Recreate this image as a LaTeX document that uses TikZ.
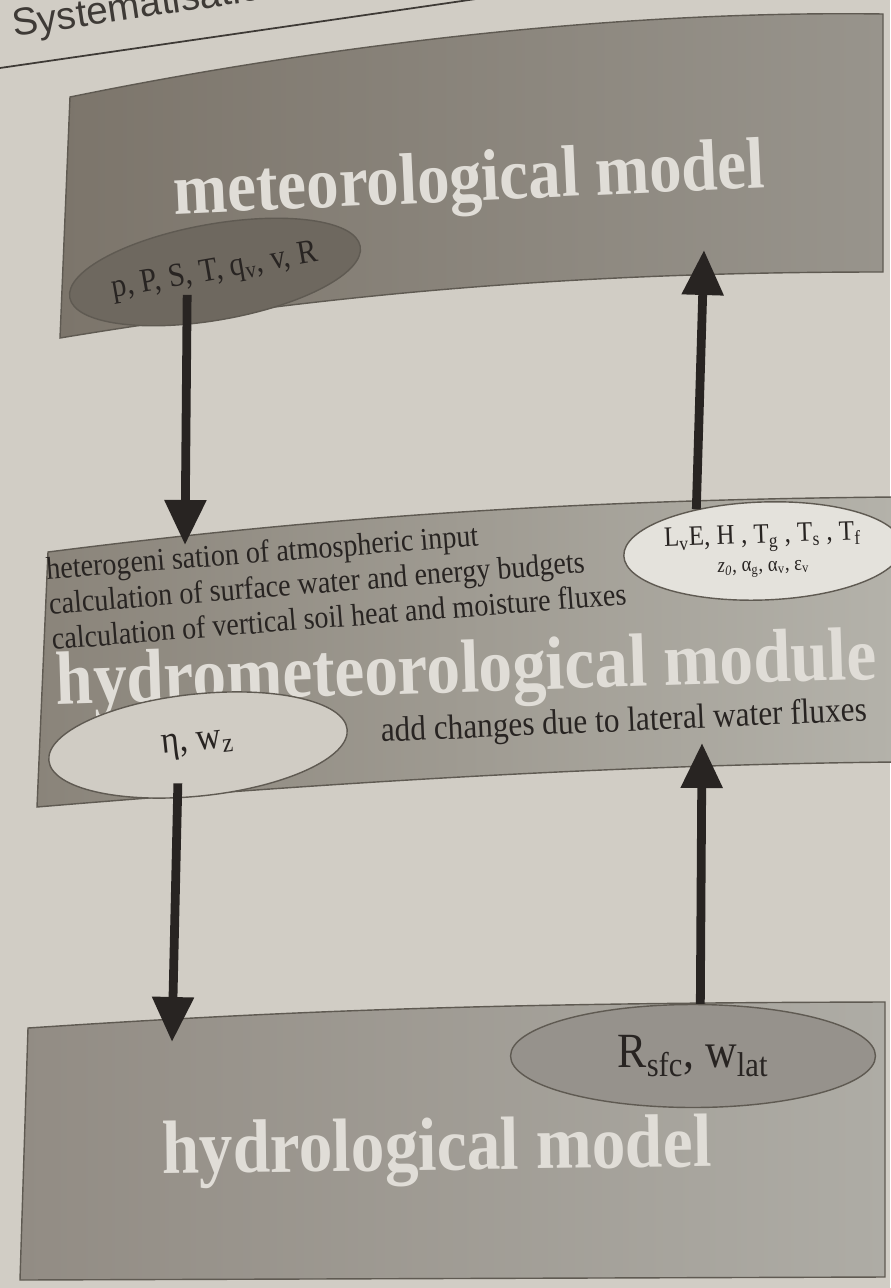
\documentclass[tikz,border=0pt]{standalone}
\usepackage{fontspec}
\setmainfont[FakeStretch=0.89]{Liberation Serif}
\newfontfamily\headfont{Liberation Sans}
\usetikzlibrary{arrows.meta,shapes.geometric,calc}
\definecolor{pagebg}{RGB}{209,205,197}
\definecolor{headink}{RGB}{62,58,54}
\definecolor{inkcol}{RGB}{40,36,34}
\definecolor{panelline}{RGB}{95,90,82}
\definecolor{titlecol}{RGB}{224,221,215}
\definecolor{metleft}{RGB}{124,117,107}
\definecolor{metright}{RGB}{152,148,140}
\definecolor{hmleft}{RGB}{138,132,122}
\definecolor{hmright}{RGB}{180,178,170}
\definecolor{hydleft}{RGB}{146,140,132}
\definecolor{hydright}{RGB}{174,172,165}
\definecolor{darkvar}{RGB}{110,104,95}
\definecolor{palevar}{RGB}{228,226,220}
\definecolor{lightvar}{RGB}{208,204,196}
\definecolor{midvar}{RGB}{150,146,140}
\tikzset{
  panel/.style={draw=panelline,line width=.8pt},
  boxtitle/.style={text=titlecol,inner sep=0pt,anchor=base,
                   font=\bfseries\fontsize{43}{43}\selectfont},
  vars/.style={ellipse,draw=panelline,line width=.8pt,text=inkcol,inner sep=0pt,
               align=center},
  proc/.style={text=inkcol,inner sep=0pt,align=left,
               font=\fontsize{18}{20}\selectfont},
  flow/.style={draw=inkcol,line width=5pt,-{Triangle[length=9mm,width=8mm]}},
}

\begin{document}
\begin{tikzpicture}[x=0.02cm,y=-0.02cm]
  \useasboundingbox (0,0) rectangle (890,1288);
  \fill[pagebg] (0,0) rectangle (890,1288);
  % running head
  \node[text=headink,font=\headfont\fontsize{22}{22}\selectfont,
        anchor=base west,inner sep=0pt,rotate=8.5] (runhead) at (14,37) {Systematisation};
  \draw[headink,line width=1pt] (0,68) -- (600,-19);
  % the three levels
  \shade[panel,left color=metleft,right color=metright]
    (70,97) .. controls (300,50) and (600,10) .. (883,14) -- (883,272)
    .. controls (600,272) and (350,290) .. (60,338) -- cycle;
  \shade[panel,left color=hmleft,right color=hmright]
    (48,552) .. controls (300,520) and (550,500) .. (895,497) -- (895,762)
    .. controls (600,765) and (300,785) .. (37,807) -- cycle;
  \shade[panel,left color=hydleft,right color=hydright]
    (28,1028) .. controls (300,1010) and (500,1003) .. (885,1002) -- (885,1277)
    -- (20,1280) -- cycle;
  \node[boxtitle,font=\bfseries\fontsize{41.5}{42}\selectfont,rotate=2.6]
    (mettitle) at (470,201) {meteorological model};
  \node[boxtitle,rotate=1.8] (hmtitle) at (467,692) {hydrometeorological module};
  \node[boxtitle,rotate=0.7] (hydtitle) at (437,1170) {hydrological model};
  \node[proc,anchor=north west,rotate=4.5] (steps) at (45,557)
    {heterogeni sation of atmospheric input\\
     calculation of surface water and energy budgets\\
     calculation of vertical soil heat and moisture fluxes};
  \node[proc,font=\fontsize{20}{22}\selectfont,anchor=base west,rotate=2.5]
    (latstep) at (381,742) {add changes due to lateral water fluxes};
  % exchanged variables
  \node[vars,fill=darkvar,minimum width=5.8cm,minimum height=1.92cm,rotate=10,
        font=\fontsize{19}{20}\selectfont] (metvars) at (215,272)
    {p, P, S, T, q\textsubscript{v}, v, R};
  \node[vars,fill=palevar,minimum width=5cm,minimum height=1.96cm,rotate=2,
        font=\fontsize{16}{17}\selectfont] (fluxvars) at (763,551)
    {L\textsubscript{v}E, H , T\textsubscript{g} , T\textsubscript{s} , T\textsubscript{f}\\[-1pt]
     {\fontsize{12}{13}\selectfont\itshape z\textsubscript{0}\upshape, α\textsubscript{g}, α\textsubscript{v}, ε\textsubscript{v}}};
  \node[vars,fill=lightvar,minimum width=6cm,minimum height=2.04cm,rotate=6,
        font=\fontsize{22}{22}\selectfont] (surfvars) at (198,745)
    {η, w\textsubscript{z}};
  \node[vars,fill=midvar,minimum width=7.3cm,minimum height=2.06cm,
        font=\fontsize{28}{28}\selectfont] (latvars) at (693,1056)
    {R\textsubscript{sfc}, w\textsubscript{lat}};
  % couplings
  \coordinate (hmin) at (185,545);
  \coordinate (metin) at (704,250);
  \coordinate (hydin) at (172,1042);
  \coordinate (hmlat) at (702,743);
  \draw[flow,shorten <=-0.6cm] (metvars.-128) -- (hmin);
  \draw[flow] (fluxvars.146) -- (metin);
  \draw[flow,shorten <=-0.3cm] (surfvars.-117) -- (hydin);
  \draw[flow] (latvars.82) -- (hmlat);
\end{tikzpicture}
\end{document}
